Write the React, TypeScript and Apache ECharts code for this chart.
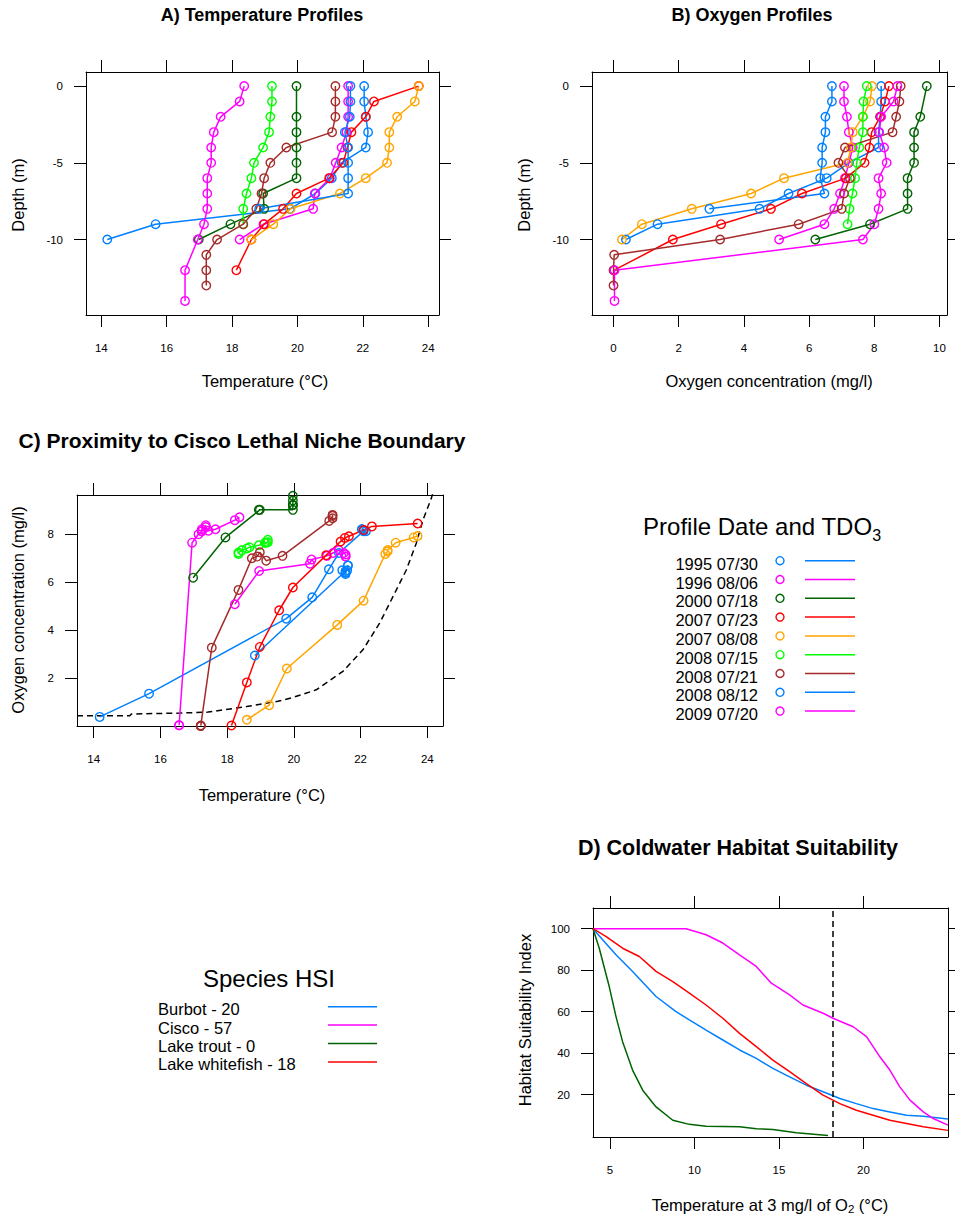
import React, { useEffect, useRef } from "react";
import * as echarts from "echarts";

const FONT = '"Liberation Sans", Arial, Helvetica, sans-serif';

// ---------- Profile data (depth m, temperature °C, oxygen mg/l) ----------
const profileDates = ["1995 07/30", "1996 08/06", "2000 07/18", "2007 07/23", "2007 08/08", "2008 07/15", "2008 07/21", "2008 08/12", "2009 07/20"];
const profileColors = ["#0080ff", "#ff00ff", "#006400", "#ff0000", "#ffa500", "#00ff00", "#a52a2a", "#0080ff", "#ff00ff"];

const depth1995 = [0, -1, -2, -3, -4, -5, -6, -7, -8, -9, -10];
const temp1995 = [22.04, 22.04, 22.09, 22.16, 22.09, 21.35, 21.05, 20.55, 19.77, 15.66, 14.18];
const oxy1995 = [8.21, 8.21, 8.18, 8.13, 8.13, 7.22, 6.54, 5.37, 4.48, 1.35, 0.38];

const depth1996 = [0, -1, -2, -3, -4, -5, -6, -7, -8, -9, -10];
const temp1996 = [21.55, 21.55, 21.55, 21.5, 21.35, 21.17, 20.99, 20.53, 20.48, 18.96, 18.23];
const oxy1996 = [7.07, 7.07, 7.16, 7.22, 7.34, 7.22, 7.1, 6.95, 6.77, 6.47, 5.08];

const depth2000 = [0, -2, -3, -4, -5, -6, -7, -8, -9, -10];
const temp2000 = [19.97, 19.97, 19.97, 19.97, 19.97, 19.97, 18.95, 18.98, 17.95, 16.98];
const oxy2000 = [9.61, 9.41, 9.22, 9.22, 9.22, 9.02, 9.02, 9.02, 7.87, 6.19];

const depth2007a = [0, -1, -2, -3, -4, -5, -6, -7, -8, -9, -10, -12];
const temp2007a = [23.71, 22.34, 22.09, 21.65, 21.53, 21.4, 20.97, 19.97, 19.56, 18.98, 18.59, 18.13];
const oxy2007a = [8.45, 8.33, 8.18, 7.92, 7.85, 7.7, 7.13, 5.78, 4.83, 3.3, 1.82, 0.02];

const depth2007b = [0, -1, -2, -3, -4, -5, -6, -7, -8, -9, -10];
const temp2007b = [23.71, 23.59, 23.05, 22.81, 22.81, 22.74, 22.09, 21.3, 19.79, 19.26, 18.59];
const oxy2007b = [7.93, 7.87, 7.65, 7.34, 7.28, 7.18, 5.23, 4.22, 2.4, 0.87, 0.26];

const depth2008a = [0, -1, -2, -3, -4, -5, -6, -7, -8, -9];
const temp2008a = [19.22, 19.22, 19.17, 19.13, 18.95, 18.67, 18.59, 18.44, 18.34, 18.34];
const oxy2008a = [7.77, 7.67, 7.65, 7.65, 7.54, 7.46, 7.41, 7.33, 7.24, 7.18];

const depth2008b = [0, -1, -2, -3, -4, -5, -6, -7, -8, -9, -10, -11, -12, -13];
const temp2008b = [21.16, 21.16, 21.16, 21.06, 19.66, 19.17, 18.98, 18.9, 18.74, 18.34, 17.54, 17.21, 17.21, 17.21];
const oxy2008b = [8.81, 8.77, 8.67, 8.56, 7.1, 6.9, 7.25, 7.07, 7.0, 5.68, 3.27, 0.02, 0, 0];

const depth2008c = [0, -1, -2, -3, -4, -5, -6, -7, -8];
const temp2008c = [21.62, 21.62, 21.6, 21.45, 21.55, 21.55, 21.55, 21.55, 18.83];
const oxy2008c = [6.7, 6.7, 6.5, 6.5, 6.4, 6.4, 6.34, 6.47, 2.94];

const depth2009 = [0, -1, -2, -3, -4, -5, -6, -7, -8, -9, -10, -12, -14];
const temp2009 = [18.37, 18.23, 17.65, 17.44, 17.36, 17.36, 17.24, 17.24, 17.24, 17.14, 16.95, 16.56, 16.56];
const oxy2009 = [8.71, 8.59, 8.21, 8.15, 8.3, 8.38, 8.13, 8.21, 8.13, 8.0, 7.65, 0.03, 0.03];

const profileDepths = [depth1995, depth1996, depth2000, depth2007a, depth2007b, depth2008a, depth2008b, depth2008c, depth2009];
const profileTemps = [temp1995, temp1996, temp2000, temp2007a, temp2007b, temp2008a, temp2008b, temp2008c, temp2009];
const profileOxys = [oxy1995, oxy1996, oxy2000, oxy2007a, oxy2007b, oxy2008a, oxy2008b, oxy2008c, oxy2009];

// Cisco lethal niche boundary (temperature, oxygen)
const nicheTemp = [13.5, 15.08, 15.13, 16.58, 17.43, 18.58, 19.52, 19.97, 20.67, 21.47, 22.07, 22.57, 22.97, 23.37, 23.67, 23.87, 24.12, 24.2];
const nicheOxy = [0.43, 0.43, 0.5, 0.54, 0.58, 0.81, 1.03, 1.19, 1.51, 2.28, 3.18, 4.29, 5.4, 6.51, 7.63, 8.6, 9.5, 9.9];

// ---------- Habitat suitability curves ----------
const speciesNames = ["Burbot - 20", "Cisco - 57", "Lake trout - 0", "Lake whitefish - 18"];
const speciesColors = ["#0080ff", "#ff00ff", "#006400", "#ff0000"];

const burbotT = [4, 4.57, 5.36, 6.34, 7.73, 8.91, 9.7, 10.69, 11.68, 12.67, 13.66, 14.64, 15.63, 16.62, 17.61, 18.6, 19.58, 20.57, 21.56, 22.55, 23.54, 25];
const burbotHSI = [100, 94.7, 87.4, 79.4, 67.3, 60, 56, 51.1, 46.3, 41.5, 37.4, 32.6, 28.5, 24.5, 21.3, 18.1, 15.6, 13.2, 11.6, 10, 9.5, 8.2];

const ciscoT = [4, 9.51, 10.69, 11.68, 12.67, 13.66, 14.55, 15.63, 16.42, 17.61, 18.2, 19.39, 20.18, 20.97, 21.56, 22.15, 22.75, 23.54, 24.13, 25];
const ciscoHSI = [100, 100, 97.1, 93.1, 87.4, 81.8, 73.7, 68.1, 63.2, 59.2, 56.8, 52.7, 47.9, 38.2, 31.8, 23.7, 17.3, 11.6, 8.4, 5.2];

const troutT = [4, 4.37, 4.96, 5.36, 5.75, 6.34, 6.94, 7.73, 8.72, 9.7, 10.69, 12.67, 13.66, 14.64, 16.03, 17.9];
const troutHSI = [100, 90.6, 72.1, 57.6, 45.5, 31.8, 22.1, 14, 7.6, 5.6, 4.7, 4.4, 3.5, 3.1, 1.5, 0.2];

const whitefishT = [4, 4.76, 5.75, 6.74, 7.73, 8.72, 9.7, 10.69, 11.68, 12.67, 13.66, 14.64, 15.63, 16.62, 17.61, 18.6, 19.58, 20.57, 21.56, 22.55, 23.54, 25];
const whitefishHSI = [100, 96.3, 90.6, 86.6, 79.4, 74.5, 68.9, 63.2, 56.8, 49.5, 43.1, 36.6, 31, 25.3, 19.7, 15.6, 12.4, 10, 7.6, 6, 4.4, 2.7];

const thresholdTemp = 18.2;

// ---------- Tick values ----------
const tempTicks = [14, 16, 18, 20, 22, 24];
const depthTicks = [-10, -5, 0];
const oxyTicksB = [0, 2, 4, 6, 8, 10];
const oxyTicksC = [2, 4, 6, 8];
const hsiXTicks = [5, 10, 15, 20];
const hsiYTicks = [20, 40, 60, 80, 100];

function axisParts(showLabel: boolean, ticks: number[], margin: number) {
  return {
    axisLine: { show: true, onZero: false, lineStyle: { color: "#000", width: 1 } },
    axisTick: { show: true, inside: false, length: 12, lineStyle: { color: "#000", width: 1 }, customValues: ticks },
    axisLabel: { show: showLabel, customValues: ticks, margin, color: "#000", fontSize: 11.5, fontFamily: FONT },
    splitLine: { show: false },
    splitArea: { show: false },
  };
}

function xPair(grid: number, min: number, max: number, ticks: number[]) {
  return [
    { type: "value", gridIndex: grid, position: "bottom", min, max, ...axisParts(true, ticks, 27) },
    { type: "value", gridIndex: grid, position: "top", min, max, ...axisParts(false, ticks, 27) },
  ];
}
function yPair(grid: number, min: number, max: number, ticks: number[]) {
  return [
    { type: "value", gridIndex: grid, position: "left", min, max, ...axisParts(true, ticks, 23) },
    { type: "value", gridIndex: grid, position: "right", min, max, ...axisParts(false, ticks, 23) },
  ];
}

function txt(text: string, x: number, y: number, size: number, opts: any = {}) {
  return {
    type: "text",
    x,
    y,
    rotation: opts.rot || 0,
    silent: true,
    style: {
      text,
      fill: "#000",
      fontSize: size,
      fontFamily: FONT,
      fontWeight: opts.bold ? "bold" : "normal",
      align: opts.align || "center",
      textAlign: opts.align || "center",
      verticalAlign: "middle",
      textVerticalAlign: "middle",
      lineHeight: opts.lineHeight,
      rich: opts.rich,
    },
  };
}

export default function App() {
  const ref = useRef<HTMLDivElement>(null);
  useEffect(() => {
    const chart = echarts.init(ref.current as HTMLDivElement, null, { renderer: "svg" });

    const profileSeries = (xi: number, xs: number[][], ys: number[][]) =>
      profileDates.map((name, i) => ({
        type: "line",
        name,
        xAxisIndex: xi,
        yAxisIndex: xi,
        data: xs[i].map((v, j) => [v, ys[i][j]]),
        symbol: "circle",
        symbolSize: 8.5,
        showSymbol: true,
        lineStyle: { color: profileColors[i], width: 1.5 },
        itemStyle: { color: "rgba(0,0,0,0)", borderColor: profileColors[i], borderWidth: 1.4 },
        emphasis: { disabled: true },
        silent: true,
      }));

    const seriesA = profileSeries(0, profileTemps, profileDepths);
    const seriesB = profileSeries(2, profileOxys, profileDepths);
    const seriesC = profileSeries(4, profileTemps, profileOxys);

    const niche = {
      type: "line",
      xAxisIndex: 4,
      yAxisIndex: 4,
      data: nicheTemp.map((t, i) => [t, nicheOxy[i]]),
      showSymbol: false,
      symbol: "none",
      lineStyle: { color: "#000", width: 1.5, type: [6, 4] },
      silent: true,
    };

    const hsiT = [burbotT, ciscoT, troutT, whitefishT];
    const hsiV = [burbotHSI, ciscoHSI, troutHSI, whitefishHSI];
    const seriesD = speciesNames.map((name, i) => ({
      type: "line",
      name,
      xAxisIndex: 6,
      yAxisIndex: 6,
      data: hsiT[i].map((t, j) => [t, hsiV[i][j]]),
      showSymbol: false,
      symbol: "none",
      lineStyle: { color: speciesColors[i], width: 1.5 },
      silent: true,
      markLine:
        i === 0
          ? {
              silent: true,
              symbol: ["none", "none"],
              label: { show: false },
              lineStyle: { color: "#000", width: 1.5, type: [6, 4] },
              data: [{ xAxis: thresholdTemp }],
            }
          : undefined,
    }));

    const graphics: any[] = [
      txt("A) Temperature Profiles", 262, 15, 18, { bold: true }),
      txt("B) Oxygen Profiles", 752, 15, 18, { bold: true }),
      txt("C) Proximity to Cisco Lethal Niche Boundary", 242, 440, 21, { bold: true }),
      txt("D) Coldwater Habitat Suitability", 738, 848, 21.5, { bold: true }),
      txt("Temperature (\u00b0C)", 265, 381, 16.5),
      txt("Depth (m)", 18, 195, 16.5, { rot: Math.PI / 2 }),
      txt("Oxygen concentration (mg/l)", 769, 381, 16.5),
      txt("Depth (m)", 524, 195, 16.5, { rot: Math.PI / 2 }),
      txt("Temperature (\u00b0C)", 262, 795, 16.5),
      txt("Oxygen concentration (mg/l)", 18, 610, 16.5, { rot: Math.PI / 2 }),
      txt("Temperature at 3 mg/l of O{sub|2} (\u00b0C)", 770, 1205, 16.5, {
        lineHeight: 20,
        rich: { sub: { fontSize: 11.5, fontFamily: FONT, lineHeight: 10, verticalAlign: "bottom" } },
      }),
      txt("Habitat Suitability Index", 525, 1020, 16.5, { rot: Math.PI / 2 }),
      txt("Profile Date and TDO{sub|3}", 762, 526, 24, {
        lineHeight: 34,
        rich: { sub: { fontSize: 16, fontFamily: FONT, lineHeight: 16, verticalAlign: "bottom" } },
      }),
      txt("Species HSI", 269, 978, 24),
    ];

    profileDates.forEach((d, i) => {
      const ym = 560.7 + i * 18.8;
      graphics.push(txt(d, 758, ym + 3, 16.5, { align: "right" }));
      graphics.push({
        type: "circle",
        silent: true,
        shape: { cx: 780, cy: ym, r: 4 },
        style: { fill: "none", stroke: profileColors[i], lineWidth: 1.4 },
      });
      graphics.push({
        type: "line",
        silent: true,
        shape: { x1: 805, y1: ym, x2: 855, y2: ym },
        style: { stroke: profileColors[i], lineWidth: 1.5 },
      });
    });

    speciesNames.forEach((s, i) => {
      const ym = 1006.7 + i * 18.4;
      graphics.push(txt(s, 158, ym + 2.5, 16.5, { align: "left" }));
      graphics.push({
        type: "line",
        silent: true,
        shape: { x1: 328, y1: ym, x2: 377, y2: ym },
        style: { stroke: speciesColors[i], lineWidth: 1.5 },
      });
    });

    const option: any = {
      animation: false,
      backgroundColor: "#ffffff",
      textStyle: { fontFamily: FONT },
      grid: [
        { left: 86, top: 72, width: 353, height: 243, outerBoundsMode: "none", containLabel: false },
        { left: 592, top: 72, width: 355, height: 243, outerBoundsMode: "none", containLabel: false },
        { left: 77, top: 495, width: 366, height: 231, outerBoundsMode: "none", containLabel: false },
        { left: 593, top: 908, width: 355, height: 229, outerBoundsMode: "none", containLabel: false },
      ],
      xAxis: [
        ...xPair(0, 13.53, 24.33, tempTicks),
        ...xPair(1, -0.66, 10.23, oxyTicksB),
        ...xPair(2, 13.5, 24.47, tempTicks),
        ...xPair(3, 4, 25, hsiXTicks),
      ],
      yAxis: [
        ...yPair(0, -14.92, 0.92, depthTicks),
        ...yPair(1, -14.92, 0.92, depthTicks),
        ...yPair(2, 0, 9.64, oxyTicksC),
        ...yPair(3, -0.5, 110, hsiYTicks),
      ],
      series: [...seriesA, ...seriesB, niche, ...seriesC, ...seriesD],
      graphic: graphics,
    };

    chart.setOption(option);
    return () => chart.dispose();
  }, []);

  return (
    <div
      ref={ref}
      style={{ position: "absolute", left: 0, top: 0, width: 955, height: 1217, background: "#fff" }}
    />
  );
}
